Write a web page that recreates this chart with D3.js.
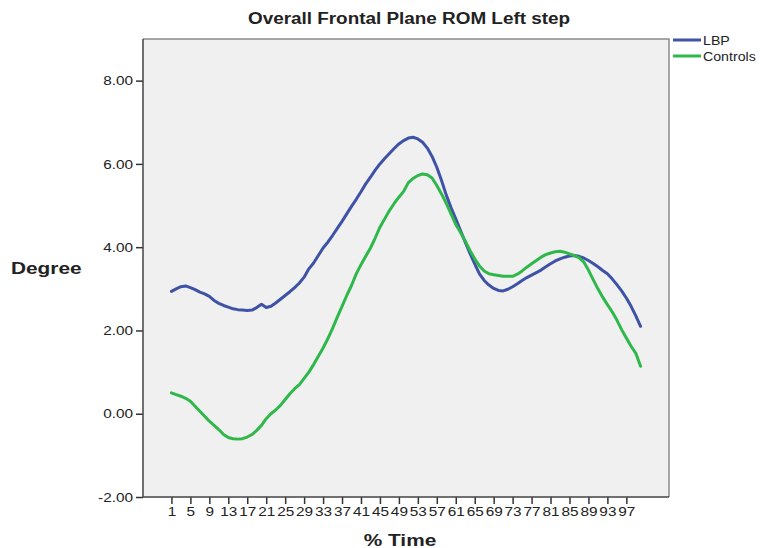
<!DOCTYPE html>
<html>
<head>
<meta charset="utf-8">
<script src="https://cdn.jsdelivr.net/npm/d3@7"></script>
<style>
	body { margin: 0; background: #fff; }
	text { font-family: Arial, "Liberation Sans", sans-serif; fill: #222; }
</style>
</head>
<body>
<script>
// % Time categories 1..100
var pctTime = d3.range(1, 101);

var lbp = [
	2.94, 3.00, 3.05, 3.07, 3.03, 2.98, 2.92, 2.88, 2.82, 2.72,
	2.65, 2.60, 2.56, 2.52, 2.50, 2.49, 2.48, 2.49, 2.55, 2.63,
	2.55, 2.58, 2.66, 2.75, 2.84, 2.93, 3.03, 3.14, 3.28, 3.48,
	3.62, 3.80, 3.98, 4.12, 4.28, 4.45, 4.62, 4.80, 4.98, 5.15,
	5.33, 5.52, 5.68, 5.85, 6.00, 6.13, 6.25, 6.37, 6.48, 6.56,
	6.62, 6.64, 6.60, 6.52, 6.38, 6.18, 5.92, 5.60, 5.25, 4.95,
	4.68, 4.40, 4.12, 3.85, 3.60, 3.36, 3.20, 3.09, 3.01, 2.96,
	2.95, 2.99, 3.05, 3.12, 3.20, 3.27, 3.33, 3.39, 3.45, 3.53,
	3.60, 3.67, 3.72, 3.76, 3.79, 3.80, 3.78, 3.74, 3.68, 3.61,
	3.53, 3.44, 3.36, 3.24, 3.10, 2.95, 2.78, 2.58, 2.35, 2.10
];

var controls = [
	0.50, 0.46, 0.42, 0.37, 0.30, 0.18, 0.06, -0.06, -0.18, -0.28,
	-0.38, -0.50, -0.57, -0.60, -0.61, -0.60, -0.56, -0.50, -0.40, -0.28,
	-0.12, 0.00, 0.09, 0.20, 0.34, 0.48, 0.60, 0.70, 0.85, 1.00,
	1.18, 1.38, 1.58, 1.80, 2.05, 2.32, 2.58, 2.84, 3.08, 3.36,
	3.58, 3.78, 3.98, 4.22, 4.48, 4.68, 4.88, 5.05, 5.20, 5.34,
	5.55, 5.65, 5.72, 5.76, 5.74, 5.66, 5.48, 5.28, 5.05, 4.80,
	4.55, 4.35, 4.15, 3.92, 3.72, 3.55, 3.43, 3.36, 3.34, 3.32,
	3.30, 3.30, 3.30, 3.35, 3.43, 3.52, 3.60, 3.68, 3.76, 3.82,
	3.86, 3.89, 3.90, 3.88, 3.84, 3.80, 3.75, 3.65, 3.45, 3.22,
	3.00, 2.80, 2.62, 2.45, 2.25, 2.02, 1.82, 1.62, 1.45, 1.14
];

var xTicks = [1, 5, 9, 13, 17, 21, 25, 29, 33, 37, 41, 45, 49, 53, 57, 61, 65, 69, 73, 77, 81, 85, 89, 93, 97];
var yTicks = [-2, 0, 2, 4, 6, 8];

var seriesNames = ["LBP", "Controls"];
var seriesColors = ["#3e52a6", "#2fb84a"];

var W = 762, H = 548;
var plotL = 143, plotR = 669, plotT = 39, plotB = 497;
var STRETCH = 1.18;

var svg = d3.select("body").append("svg")
	.attr("width", W)
	.attr("height", H);

var x = d3.scalePoint()
	.domain(pctTime)
	.range([plotL, plotR])
	.padding(6);

var y = d3.scaleLinear()
	.domain([-2, 9])
	.range([plotB, plotT]);

//the text in the picture is a bit wider than the font, stretch it
function stretch(sel, k) {
	sel.each(function() {
		var w = this.getComputedTextLength();
		d3.select(this)
			.attr("textLength", w * k)
			.attr("lengthAdjust", "spacingAndGlyphs");
	});
}

// plot background
svg.append("rect")
	.attr("x", plotL)
	.attr("y", plotT)
	.attr("width", plotR - plotL)
	.attr("height", plotB - plotT)
	.attr("fill", "#f0f0f0");

// lines
var line = d3.line()
	.x(function(d, i) { return x(pctTime[i]); })
	.y(function(d) { return y(d); });

[lbp, controls].map(function(vals, k) {
	svg.append("path")
		.attr("d", line(vals))
		.attr("fill", "none")
		.attr("stroke", seriesColors[k])
		.attr("stroke-width", 3)
		.attr("stroke-linejoin", "round")
		.attr("stroke-linecap", "round");
});

// frame: top and right lighter
svg.append("path")
	.attr("d", "M" + plotL + "," + plotT + "H" + plotR + "V" + plotB)
	.attr("fill", "none")
	.attr("stroke", "#8a8a8a")
	.attr("stroke-width", 1.5);

// axes
var yAxis = d3.axisLeft(y)
	.tickValues(yTicks)
	.tickSize(7)
	.tickPadding(3)
	.tickFormat(function(d) { return d.toFixed(2); });

var xAxis = d3.axisBottom(x)
	.tickValues(xTicks)
	.tickSize(7)
	.tickPadding(3);

var gy = svg.append("g")
	.attr("transform", "translate(" + plotL + ",0)")
	.call(yAxis);

var gx = svg.append("g")
	.attr("transform", "translate(0," + plotB + ")")
	.call(xAxis);

[gx, gy].map(function(g) {
	g.select(".domain").remove();
	g.selectAll(".tick line").attr("stroke", "#333").attr("stroke-width", 1.5);
	g.selectAll(".tick text")
		.attr("font-size", 13)
		.attr("font-family", "Arial, 'Liberation Sans', sans-serif")
		.attr("fill", "#333");
});
stretch(gx.selectAll(".tick text"), STRETCH);
stretch(gy.selectAll(".tick text"), STRETCH);

// left and bottom axis lines
svg.append("path")
	.attr("d", "M" + plotL + "," + plotT + "V" + plotB + "H" + plotR)
	.attr("fill", "none")
	.attr("stroke", "#444")
	.attr("stroke-width", 1.5);

// titles
var title = svg.append("text")
	.attr("x", 409)
	.attr("y", 24)
	.attr("text-anchor", "middle")
	.attr("font-size", 16)
	.attr("font-weight", "bold")
	.text("Overall Frontal Plane ROM Left step");
stretch(title, STRETCH);

var ylab = svg.append("text")
	.attr("x", 11)
	.attr("y", 274)
	.attr("font-size", 16)
	.attr("font-weight", "bold")
	.text("Degree");
stretch(ylab, 1.3);

var xlab = svg.append("text")
	.attr("x", 400)
	.attr("y", 546)
	.attr("text-anchor", "middle")
	.attr("font-size", 16)
	.attr("font-weight", "bold")
	.text("% Time");
stretch(xlab, 1.3);

// legend
var legend = svg.append("g");
seriesNames.map(function(name, i) {
	var ly = 40 + i * 16;
	legend.append("line")
		.attr("x1", 673)
		.attr("x2", 701)
		.attr("y1", ly)
		.attr("y2", ly)
		.attr("stroke", seriesColors[i])
		.attr("stroke-width", 3);
	var t = legend.append("text")
		.attr("x", 703)
		.attr("y", ly + 4.5)
		.attr("font-size", 12)
		.text(name);
	stretch(t, STRETCH);
});
</script>
</body>
</html>
